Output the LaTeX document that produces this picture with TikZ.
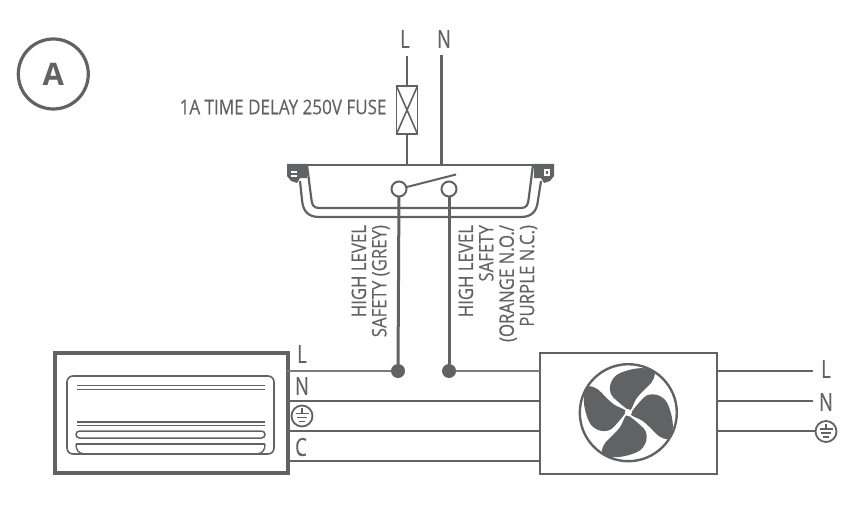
\documentclass[tikz,border=0pt]{standalone}
\usepackage{fontspec}
\setmainfont[FakeStretch=0.84,FakeBold=0.25]{Open Sans}
\newfontfamily\labfont[FakeStretch=0.74,FakeBold=0.25]{Open Sans}
\newfontfamily\badgefont{Open Sans}
\definecolor{ink}{HTML}{616264}
\tikzset{
  every node/.style={text=ink,inner sep=0pt,outer sep=0pt},
  wire/.style={draw=ink,line width=2pt},
  thinwire/.style={draw=ink!85,line width=1.5pt},
  heavywire/.style={draw=ink,line width=3pt},
  lab/.style={font=\labfont\fontsize{25}{25}\selectfont},
  vlab/.style={font=\fontsize{20}{20.4}\selectfont,rotate=90,align=right,anchor=north east},
  dot/.style={circle,fill=ink,minimum size=14pt},
  contact/.style={circle,draw=ink,line width=2pt,fill=white,minimum size=15pt},
  earth/.style={circle,draw=ink,line width=1.8pt,minimum size=21pt,fill=white,
    path picture={
      \draw[ink,line width=1.1pt] (path picture bounding box.center) ++(0,-8) -- ++(0,5.5);
      \draw[ink,line width=1.5pt] (path picture bounding box.center) ++(-6.5,-2.5) -- ++(13,0);
      \draw[ink,line width=1.5pt] (path picture bounding box.center) ++(-5,1.6) -- ++(10,0);
      \draw[ink,line width=1.5pt] (path picture bounding box.center) ++(-3,5.5) -- ++(6,0);
    }}
}
\newcommand{\fanblade}{%
  plot[smooth cycle,tension=0.6] coordinates {(-0.7,-3.3) (-12,-12.5) (-17.5,-19) (-18,-28) (-12.5,-37) (-1.7,-42) (11.7,-44.5) (24,-43) (26.5,-38) (23,-30) (16,-23) (8,-14) (2.7,-3.3)}}
\begin{document}
\begin{tikzpicture}[x=1pt,y=-1pt]
\useasboundingbox (0,0) rectangle (850,513);
% badge
\node[circle,draw=ink,line width=3.2pt,minimum size=70pt,font=\badgefont\bfseries\fontsize{31}{31}\selectfont] (badge) at (53.3,74) {A};
% supply
\node[lab] (topL) at (405,39) {L};
\node[lab] (topN) at (444,39) {N};
\coordinate (Lstart) at (407,56);
\coordinate (Nstart) at (441,55);
\node[draw=ink,line width=1.8pt,minimum width=21pt,minimum height=48pt] (fuse) at (407,110) {};
\draw[ink,line width=1.6pt] (fuse.north west) -- (fuse.south east) (fuse.north east) -- (fuse.south west);
\node[font=\fontsize{20.3}{20}\selectfont,anchor=east] (fuselab) at (386.5,107) {1A TIME DELAY 250V FUSE};
\coordinate (Lhouse) at (407,165);
\coordinate (Nhouse) at (441,165);
\draw[wire] (Lstart) -- (fuse.north);
\draw[wire] (fuse.south) -- (Lhouse);
\draw[heavywire] (Nstart) -- (Nhouse);
% housing
\draw[ink,line width=2.4pt] (287,165) -- (554,165);
\fill[ink] (287,164) -- (307,164) -- (307,178) -- (300,178) -- (297,183) -- (291,181) -- (287,176) -- cycle;
\fill[ink] (554,164) -- (534,164) -- (534,178) -- (541,178) -- (544,183) -- (550,181) -- (554,176) -- cycle;
\fill[white] (291,171) rectangle (297,173);
\fill[white] (291,175) rectangle (297,177);
\fill[white] (544,169) rectangle (550,176);
\fill[ink] (546,171) rectangle (548,174);
\draw[ink,line width=2.2pt] (307,165) -- (311.5,200) .. controls (312,205) and (314,208) .. (319,208) -- (521,208) .. controls (526,208) and (528,205) .. (528.5,200) -- (533,165);
\draw[ink,line width=2.2pt] (300,181) -- (302,200) .. controls (303,212) and (309,217) .. (319,217) -- (521,217) .. controls (531,217) and (537,212) .. (538,200) -- (541,181);
% switch
\node[contact] (c1) at (399,189) {};
\node[contact] (c2) at (449,189) {};
\coordinate (armend) at (456,174.5);
\draw[wire] (c1) -- (armend);
% main wires
\node[dot] (d1) at (398,371) {};
\node[dot] (d2) at (449,371) {};
\draw[heavywire] (c1) -- (d1);
\draw[heavywire] (c2) -- (d2);
% vertical labels
\node[vlab] (v1) at (351.5,225) {HIGH LEVEL\\SAFETY (GREY)};
\node[vlab] (v2) at (458.5,225) {HIGH LEVEL\\SAFETY\\(ORANGE N.O./\\PURPLE N.C.)};
% indoor unit
\node[draw=ink,line width=4pt,minimum width=233pt,minimum height=120pt,anchor=north west] (indoor) at (54.5,353) {};
\draw[ink,line width=1.6pt,rounded corners=6pt] (67,376) rectangle (274,454);
\draw[ink,line width=1.4pt] (76.5,385.7) -- (264.5,385.7) (76.5,389.2) -- (264.5,389.2) (76.5,422) -- (264.5,422) (76.5,425.7) -- (264.5,425.7);
\draw[ink,line width=1.5pt,rounded corners=3.5pt] (76,438) -- (76,431) -- (265,431) -- (265,438) -- cycle;
\draw[ink,line width=1.4pt] (76,444) -- (265,444);
\draw[ink,line width=1.4pt] (76,444) .. controls (76,450) and (78,453) .. (84,454);
\draw[ink,line width=1.4pt] (265,444) .. controls (265,450) and (263,453) .. (257,454);
\draw[ink,line width=2.2pt] (84,454) -- (257,454);
% outdoor unit
\node[draw=ink,line width=2pt,minimum width=177pt,minimum height=121pt,anchor=north west] (outdoor) at (540,353) {};
\node[circle,draw=ink,line width=2.4pt,minimum size=97pt] (fan) at (628.3,412.7) {};
\foreach \a in {0,-90,-180,-270}{
  \fill[ink,shift={(628.3,412.7)},rotate=\a] \fanblade;
}
\node[circle,fill=white,minimum size=7pt] (hub) at (628.3,412.7) {};
% connections between units
\coordinate (aL) at (287,371);
\coordinate (aN) at (287,401);
\coordinate (aE) at (287,431);
\coordinate (aC) at (287,461);
\draw[thinwire] (aL) -- (d1);
\draw[thinwire] (d2) -- (540,371);
\draw[wire] (aN) -- (540,401);
\draw[wire] (aE) -- (540,431);
\draw[wire] (aC) -- (540,461);
\node[lab] (lL) at (302,354) {L};
\node[lab] (lN) at (302,386) {N};
\node[earth] (lE) at (302,416) {};
\node[lab] (lC) at (301,447) {C};
% outputs
\node[lab] (rL) at (826,369) {L};
\node[lab] (rN) at (826,402) {N};
\node[earth] (rE) at (826,431.5) {};
\draw[wire] (717,371) -- (813,371);
\draw[wire] (717,401) -- (813,401);
\draw[wire] (717,431) -- (rE.west |- 717,431);
\end{tikzpicture}
\end{document}
